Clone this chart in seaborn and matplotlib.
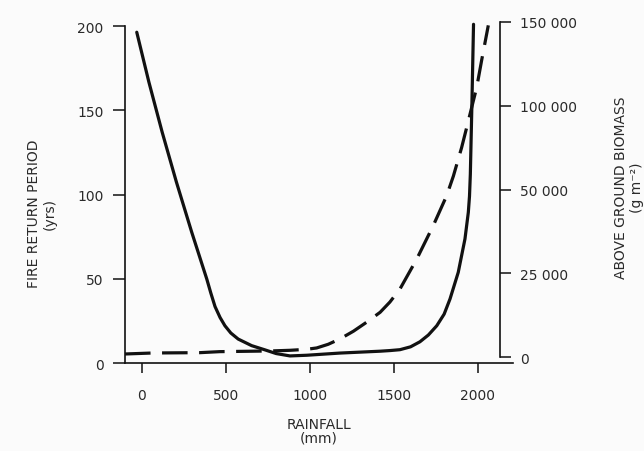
import numpy as np
import pandas as pd
import matplotlib
matplotlib.use("Agg")
import matplotlib.pyplot as plt
import seaborn as sns

# ---- data ----
fire_rain = [-30, 42, 121, 206, 297, 387, 411, 436, 466, 495, 530, 574, 654, 733, 800,
             882, 982, 1180, 1419, 1480, 1537, 1600, 1656, 1706, 1756, 1800, 1835, 1884,
             1924, 1944, 1951, 1956, 1965, 1975]
fire_period = [196.3, 166.8, 137.1, 107.4, 77.7, 49.8, 41.5, 33.5, 27.0, 22.1, 17.8,
               14.2, 10.3, 7.8, 5.6, 4.2, 4.6, 5.9, 7.0, 7.4, 7.9, 9.6, 12.6, 16.6,
               22.1, 29.0, 38.0, 53.8, 73.6, 89.4, 99, 112, 152, 201]

bio_rain = [-100, 67, 347, 464, 762, 882, 982, 1041, 1110, 1180, 1260, 1339, 1419,
            1477, 1537, 1637, 1735, 1815, 1855, 1904, 1933, 1994, 2024, 2063]
biomass = [900, 1200, 1300, 1600, 1800, 2000, 2300, 2700, 3800, 5400, 7700, 10400,
           13350, 16400, 20300, 29250, 39200, 48150, 58000, 75000, 86500, 111000,
           127500, 148000]

x_ticks = [0, 500, 1000, 1500, 2000]
left_ticks = [0, 50, 100, 150, 200]
right_ticks = [0, 25000, 50000, 100000, 150000]
right_labels = ["0", "25 000", "50 000", "100 000", "150 000"]

sns.set_theme(style="ticks")
plt.rcParams["font.family"] = ["DejaVu Sans"]

ink = "#111111"
txt = "#2a2a2a"
bg = "#fbfbfb"

fig = plt.figure(figsize=(6.44, 4.52), dpi=100, facecolor=bg)
ax = fig.add_axes([125 / 644, 1 - 364 / 452, 388 / 644, (364 - 23) / 452])
ax.set_facecolor(bg)

df_fire = pd.DataFrame({"rain": fire_rain, "period": fire_period})
df_bio = pd.DataFrame({"rain": bio_rain, "biomass": biomass})

sns.lineplot(data=df_fire, x="rain", y="period", ax=ax, color=ink, lw=2.3,
             estimator=None, sort=False, clip_on=False)
ax.lines[0].set_solid_joinstyle("round")

ax.set_xlim(-100, 2210)
ax.set_ylim(0, 200 + 4 / 1.685)
ax.set_xticks(x_ticks)
ax.set_yticks(left_ticks)
ax.spines["top"].set_visible(False)
ax.spines["right"].set_visible(False)
ax.spines["left"].set_bounds(0, 200)
for s in ("left", "bottom"):
    ax.spines[s].set_color(ink)
    ax.spines[s].set_linewidth(1.2)
ax.tick_params(axis="y", direction="out", length=8.5, width=1.1, color=ink,
               pad=7, labelsize=10, labelcolor=txt)
ax.tick_params(axis="x", direction="out", length=7, width=1.1, color=ink,
               pad=11, labelsize=10, labelcolor=txt)

ax.set_xlabel("RAINFALL\n(mm)", fontsize=10, color=txt, linespacing=1.0)
ax.xaxis.set_label_coords((319 - 125) / 388, -(432 - 364) / 341, transform=ax.transAxes)
ax.xaxis.label.set_va("center")
ax.set_ylabel("FIRE RETURN PERIOD\n(yrs)", fontsize=10, color=txt, linespacing=1.1)
ax.yaxis.set_label_coords((42 - 125) / 388, (364 - 214) / 341)
ax.yaxis.label.set_va("center")

# ---- right axis (piecewise linear scale as in the original) ----
def fwd(v):
    v = np.asarray(v, dtype=float)
    return np.where(v < 50000, v / 25000, 2 + (v - 50000) / 50000)

def inv(p):
    p = np.asarray(p, dtype=float)
    return np.where(p < 2, p * 25000, 50000 + (p - 2) * 50000)

ax2 = ax.twinx()
ax2.set_yscale("function", functions=(fwd, inv))
sns.lineplot(data=df_bio, x="rain", y="biomass", ax=ax2, color=ink, lw=2.3,
             estimator=None, sort=False, clip_on=False, dashes=False)
ax2.lines[0].set_dashes([8, 3.6])
ax2.set_ylim(-0.0716 * 25000, 150000)
ax2.set_yticks(right_ticks)
ax2.set_yticklabels(right_labels)
ax2.set_xlim(-100, 2210)
ax2.spines["right"].set_position(("data", 2130))
ax2.spines["right"].set_bounds(0, 150000)
ax2.spines["right"].set_color(ink)
ax2.spines["right"].set_linewidth(1.2)
for s in ("top", "left", "bottom"):
    ax2.spines[s].set_visible(False)
ax2.tick_params(axis="y", direction="out", length=8, width=1.1, color=ink,
                pad=7, labelsize=10, labelcolor=txt)
ax2.set_ylabel("ABOVE GROUND BIOMASS\n(g m⁻²)", fontsize=10, color=txt,
               linespacing=1.1, rotation=90)
ax2.yaxis.set_label_coords((629 - 125) / 388, (364 - 188) / 341)
ax2.yaxis.label.set_va("center")
ax2.set_xlabel("")

fig.savefig("out.png", dpi=100, facecolor=bg)
